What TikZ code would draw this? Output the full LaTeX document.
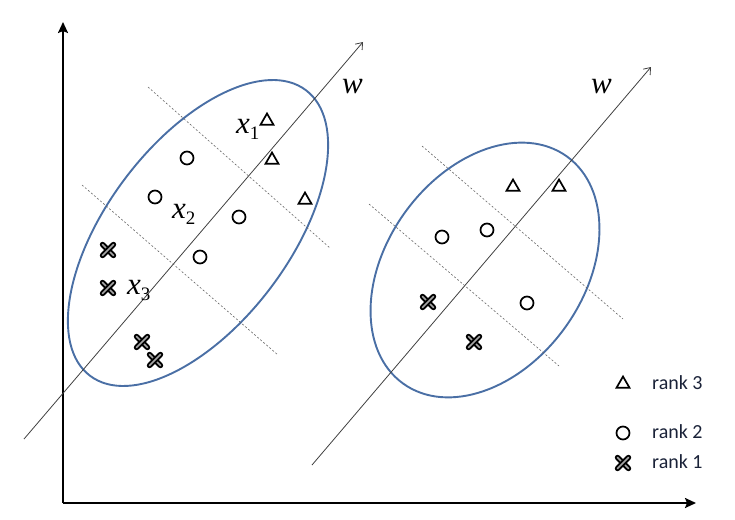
\documentclass[tikz,border=0pt]{standalone}
\usepackage{fontspec}
\setmainfont{Liberation Serif}
\newfontfamily\legendfont{Carlito}
\usetikzlibrary{arrows.meta,shapes.geometric}
\definecolor{ellblue}{HTML}{4A6FA5}
\definecolor{lgtext}{HTML}{1A2238}
\begin{document}
\begin{tikzpicture}[x=1pt,y=-1pt,
  tri/.style={regular polygon, regular polygon sides=3, draw, line width=1.7pt, inner sep=0pt, minimum size=15pt},
  circ/.style={circle, draw, line width=1.7pt, inner sep=0pt, minimum size=13pt},
  crs/.style={inner sep=0pt, minimum size=12pt},
  xstroke/.style={line width=1.9pt, double=gray!70, double distance=1.6pt, line cap=round},
  ell/.style={draw=ellblue, line width=1.9pt},
  waxis/.style={draw=black!75, line width=0.8pt, -{Straight Barb[length=6pt,width=9pt]}},
  axis/.style={draw=black, line width=2pt, -{Stealth[length=11pt,width=10pt,inset=2pt]}},
  sep/.style={draw=black!60, line width=0.6pt, dash pattern=on 2pt off 2pt},
  xlab/.style={anchor=base west, inner sep=0pt, font=\fontsize{31}{31}\selectfont\itshape},
  lg/.style={anchor=west, inner sep=0pt, text=lgtext, font=\legendfont\fontsize{20}{20}\selectfont}
]
\useasboundingbox (0,0) rectangle (735,519);

% axes
\coordinate (O) at (63,503);
\coordinate (Ytop) at (63,22);
\coordinate (Xend) at (696,503);
\draw[axis] (O) -- (Ytop);
\draw[axis] (O) -- (Xend);

% ellipses
\draw[ell, rotate around={52.9:(198,233)}] (198,233) ellipse [x radius=179pt, y radius=91pt];
\draw[ell, rotate around={54.2:(485,270)}] (485,270) ellipse [x radius=140pt, y radius=98.6pt];

% w axes
\coordinate (wLa) at (24,439);
\coordinate (wLb) at (363,42);
\coordinate (wRa) at (312,465);
\coordinate (wRb) at (651,67);
\draw[waxis] (wLa) -- (wLb);
\draw[waxis] (wRa) -- (wRb);

% dashed separators
\coordinate (dL1a) at (148,87);  \coordinate (dL1b) at (330,248);
\coordinate (dL2a) at (82,185);  \coordinate (dL2b) at (278,355);
\coordinate (dR1a) at (422,146); \coordinate (dR1b) at (623,319);
\coordinate (dR2a) at (369,204); \coordinate (dR2b) at (559,366);
\draw[sep] (dL1a) -- (dL1b);
\draw[sep] (dL2a) -- (dL2b);
\draw[sep] (dR1a) -- (dR1b);
\draw[sep] (dR2a) -- (dR2b);

% labels
\node[xlab] (wL) at (342,93) {w};
\node[xlab] (wR) at (591,93) {w};
\node[xlab] (x1) at (236,133) {x\raisebox{-6pt}{\fontsize{19}{19}\selectfont\upshape 1}};
\node[xlab] (x2) at (172,218) {x\raisebox{-6pt}{\fontsize{19}{19}\selectfont\upshape 2}};
\node[xlab] (x3) at (127,294) {x\raisebox{-6pt}{\fontsize{19}{19}\selectfont\upshape 3}};

% left cluster markers
\node[tri] (tL1) at (267,121) {};
\node[tri] (tL2) at (272,160) {};
\node[tri] (tL3) at (305,200) {};
\node[circ] (cL1) at (187,158) {};
\node[circ] (cL2) at (155,197) {};
\node[circ] (cL3) at (239,217) {};
\node[circ] (cL4) at (200,257) {};
\node[crs] (kL1) at (108,250) {};
\node[crs] (kL2) at (108,288) {};
\node[crs] (kL3) at (142,342) {};
\node[crs] (kL4) at (155,360) {};

% right cluster markers
\node[tri] (tR1) at (513,187) {};
\node[tri] (tR2) at (559,187) {};
\node[circ] (cR1) at (442,237) {};
\node[circ] (cR2) at (487,230) {};
\node[circ] (cR3) at (527,303) {};
\node[crs] (kR1) at (428,302) {};
\node[crs] (kR2) at (474,342) {};

% legend
\node[tri] (lgT) at (623,384) {};
\node[circ] (lgC) at (623,433) {};
\node[crs] (lgK) at (623,463) {};
\node[lg] (lgT3) at (652,383) {rank 3};
\node[lg] (lgC2) at (652,432) {rank 2};
\node[lg] (lgK1) at (652,462) {rank 1};

\foreach \n in {kL1,kL2,kL3,kL4,kR1,kR2,lgK}{
  \draw[xstroke] ([shift={(-5.5pt,5.5pt)}]\n.center) -- ([shift={(5.5pt,-5.5pt)}]\n.center);
  \draw[xstroke] ([shift={(-5.5pt,-5.5pt)}]\n.center) -- ([shift={(5.5pt,5.5pt)}]\n.center);
}
\end{tikzpicture}
\end{document}
